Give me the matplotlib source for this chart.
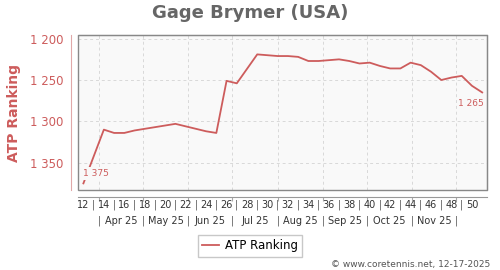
import matplotlib
matplotlib.use("Agg")
import matplotlib.pyplot as plt
from matplotlib.lines import Line2D
from matplotlib.patches import Rectangle
from matplotlib.transforms import blended_transform_factory

# weekly ATP ranking (week number -> rank)
weeks = [12, 14, 15, 16, 17, 18, 19, 20, 21, 22, 23, 24, 25, 26, 27, 29, 30, 31, 32, 33,
         34, 35, 36, 37, 38, 39, 40, 41, 42, 43, 44, 45, 46, 47, 48, 49, 50, 51]
ranks = [1375, 1310, 1314, 1314, 1311, 1309, 1307, 1305, 1303, 1306, 1309, 1312, 1314, 1251, 1254, 1219, 1220, 1221, 1221, 1222,
         1227, 1227, 1226, 1225, 1227, 1230, 1229, 1233, 1236, 1236, 1229, 1232, 1240, 1250, 1247, 1245, 1257, 1265]

week_ticks = list(range(12, 51, 2))
month_names = ["Apr 25", "May 25", "Jun 25", "Jul 25", "Aug 25", "Sep 25", "Oct 25", "Nov 25"]
month_edges = [13.56, 17.86, 22.25, 26.55, 31.04, 35.44, 39.73, 44.13, 48.46]
y_ticks = [1200, 1250, 1300, 1350]

red = "#cd5c5c"
gray = "#888888"

fig = plt.figure(figsize=(5, 2.7), dpi=100)
ax = fig.add_axes([0.1566, 0.2963, 0.818, 0.5727])
ax.set_facecolor("#f9f9f9")

ax.plot(weeks, ranks, color=red, lw=1.3, zorder=3)

ax.set_xlim(11.5, 51.5)
ax.set_ylim(1383, 1196)

# grid: horizontal at y ticks, vertical at month boundaries
ax.set_yticks(y_ticks)
ax.set_yticklabels([f"{v:,}".replace(",", " ") for v in y_ticks])
ax.set_xticks(month_edges)
ax.set_xticklabels([])
ax.grid(True, color="#d8d8d8", ls=(0, (3, 3)), lw=0.7)
ax.tick_params(axis="y", length=0, pad=6, labelsize=8.5, labelcolor=red)
ax.tick_params(axis="x", length=3, color="#aaaaaa", direction="out", pad=2)

for s in ["top", "right"]:
    ax.spines[s].set_color(gray)
ax.spines["left"].set_position(("outward", 5))
ax.spines["left"].set_color("#e0a8a8")
ax.spines["bottom"].set_position(("outward", 5))
ax.spines["bottom"].set_color("#999999")
ax.add_patch(Rectangle((0, 0), 1, 1, transform=ax.transAxes, fill=False,
                       edgecolor=gray, lw=1, clip_on=False, zorder=4))

ax.set_ylabel("ATP Ranking", color=red, fontsize=10, fontweight="bold")
ax.yaxis.set_label_coords(-0.14, 0.5)

# end point labels
ax.annotate(f"{ranks[0]:,}".replace(",", " "), (weeks[0], ranks[0]), xytext=(0, 4),
            textcoords="offset points", color=red, fontsize=6.5, ha="left", va="bottom",
            bbox=dict(boxstyle="square,pad=0.2", fc="#f9f9f9", ec="none"), zorder=5)
ax.annotate(f"{ranks[-1]:,}".replace(",", " "), (weeks[-1], ranks[-1]), xytext=(1, -5),
            textcoords="offset points", color=red, fontsize=6.5, ha="right", va="top", zorder=5)

# week numbers row and month row
tr = blended_transform_factory(ax.transData, fig.transFigure)
for w in week_ticks:
    ax.text(w, 1 - 204.5 / 270, str(w), transform=tr, ha="center", va="center",
            fontsize=7, color="#333333")
    if w < week_ticks[-1]:
        ax.text(w + 1, 1 - 204.5 / 270, "|", transform=tr, ha="center", va="center",
                fontsize=7, color="#555555")
for e in month_edges:
    ax.text(e, 1 - 220.5 / 270, "|", transform=tr, ha="center", va="center",
            fontsize=7, color="#555555")
for i, m in enumerate(month_names):
    ax.text((month_edges[i] + month_edges[i + 1]) / 2, 1 - 220.5 / 270, m, transform=tr,
            ha="center", va="center", fontsize=7, color="#333333")

fig.text(0.5, 1 - 13 / 270, "Gage Brymer (USA)", ha="center", va="center",
         fontsize=13, fontweight="bold", color="#666666")

leg_line = Line2D([], [], color=red, lw=1.3)
fig.legend([leg_line], ["ATP Ranking"], loc="center", bbox_to_anchor=(0.5, 1 - 246 / 270),
           fontsize=8.5, frameon=True, fancybox=False, edgecolor="#bbbbbb",
           handlelength=1.4, handletextpad=0.5, borderpad=0.35)

fig.text(0.98, 1 - 264 / 270, "\u00a9 www.coretennis.net, 12-17-2025", ha="right", va="center",
         fontsize=6.5, color="#555555")

fig.savefig("out.png", dpi=100)
